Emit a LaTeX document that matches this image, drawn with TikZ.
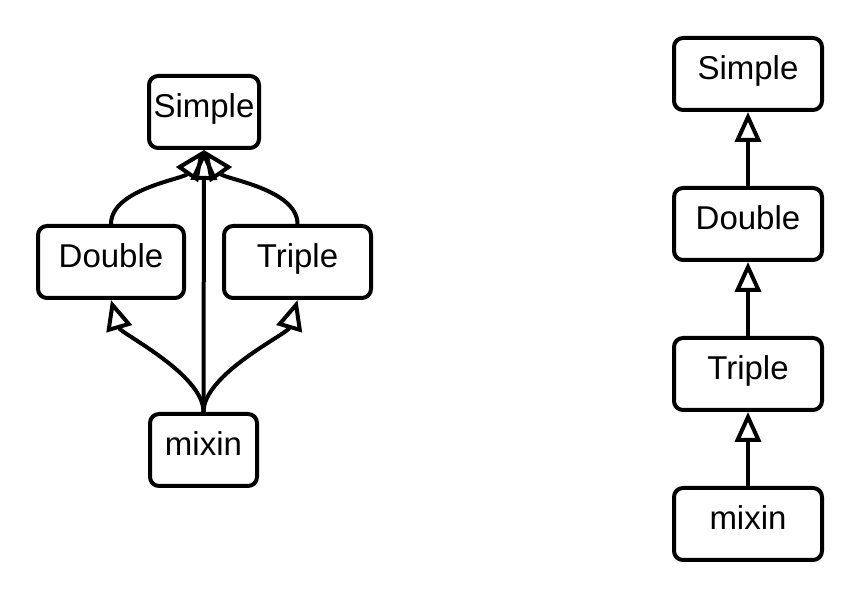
\documentclass[tikz,border=0pt]{standalone}
\usepackage{fontspec}
\setmainfont{Liberation Sans}
\usetikzlibrary{arrows.meta}
\begin{document}
\begin{tikzpicture}[x=1pt,y=1pt,
  cls/.style={draw, line width=4pt, rounded corners=9pt, minimum height=72pt,
    inner sep=0pt, text height=23pt, text depth=11pt,
    font=\fontsize{33}{38}\selectfont},
  inh/.style={line width=4pt, -{Triangle[open, length=30pt, width=26pt]}}]
\useasboundingbox (0,0) rectangle (855,-593);
% left diagram
\node[cls, minimum width=110pt] (s1) at (204,-112) {Simple};
\node[cls, minimum width=146pt] (d1) at (111,-262) {Double};
\node[cls, minimum width=147pt] (t1) at (297.5,-262) {Triple};
\node[cls, minimum width=107pt] (m1) at (203.5,-450) {mixin};
\draw[inh] (d1.north) .. controls +(0,35) and +(-20,-29) .. (s1.south);
\draw[inh] (t1.north) .. controls +(0,35) and +(20,-29) .. (s1.south);
\draw[inh] (m1.north) -- (s1.south);
\draw[inh] (m1.north) .. controls +(0,38) and +(9.7,-33.6) .. (d1.south);
\draw[inh] (m1.north) .. controls +(0,38) and +(-9.7,-33.6) .. (t1.south);
% right diagram
\node[cls, minimum width=148pt] (s2) at (748,-74) {Simple};
\node[cls, minimum width=148pt] (d2) at (748,-224) {Double};
\node[cls, minimum width=148pt] (t2) at (748,-374) {Triple};
\node[cls, minimum width=148pt] (m2) at (748,-524) {mixin};
\draw[inh] (d2) -- (s2);
\draw[inh] (t2) -- (d2);
\draw[inh] (m2) -- (t2);
\end{tikzpicture}
\end{document}
